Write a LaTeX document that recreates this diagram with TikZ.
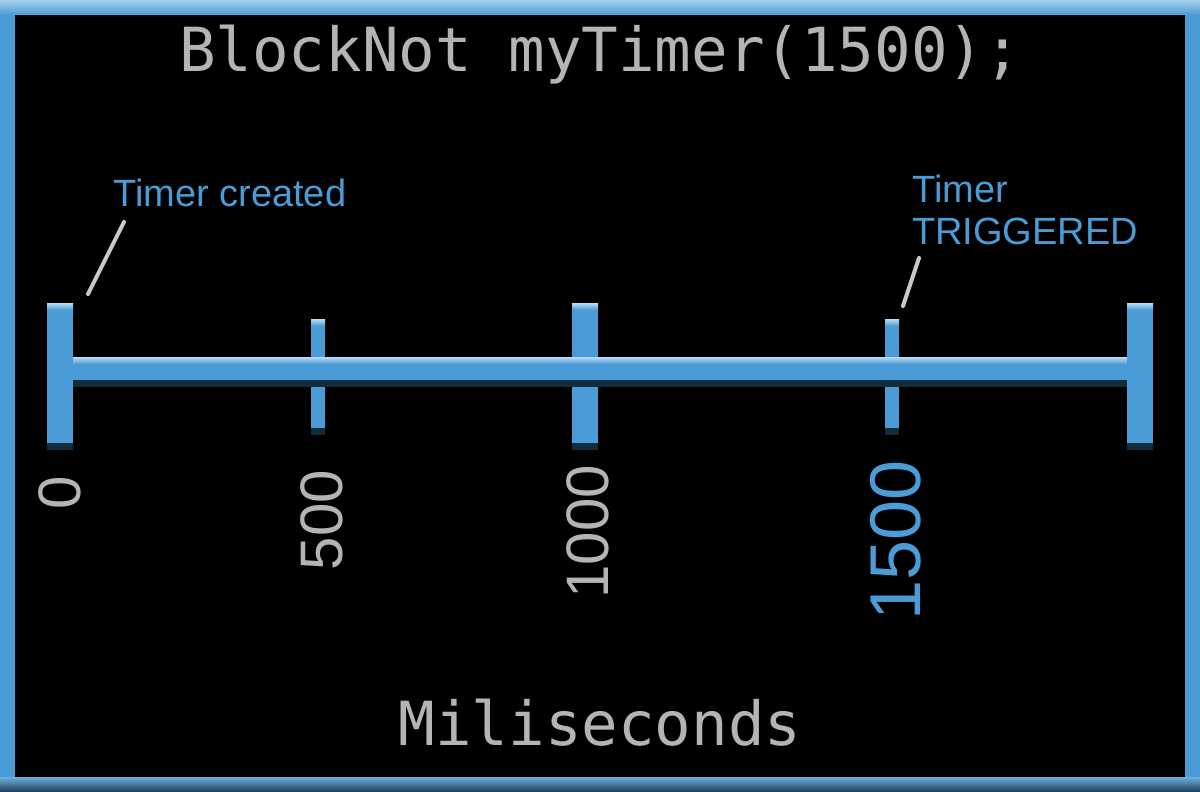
\documentclass[tikz,border=0pt]{standalone}
\usepackage{fontspec}
\setmainfont{Liberation Sans}
\newfontfamily\codefont{DejaVu Sans Mono}
\definecolor{frameblue}{HTML}{4A9BD6}
\definecolor{framelight}{HTML}{A8CFF0}
\definecolor{axisblue}{HTML}{4A9BD6}
\definecolor{axishl}{HTML}{B8DDF8}
\definecolor{axisdark}{HTML}{122C3C}
\definecolor{labelgrey}{HTML}{B4B4B4}
\definecolor{leadergrey}{HTML}{C8C8C8}
\tikzset{
  codetext/.style={text=labelgrey, font=\codefont\fontsize{60.8}{66}\selectfont, inner sep=0pt},
  bluelbl/.style={text=frameblue, font=\fontsize{38}{42}\selectfont, inner sep=0pt},
  numlbl/.style={text=labelgrey, font=\fontsize{60}{66}\selectfont, inner sep=0pt, rotate=90, anchor=east},
  leader/.style={draw=leadergrey, line width=4pt, line cap=round},
}
\newcommand{\mytick}[4]{% x, halfwidth, ytop, ybottom
  \fill[axisdark] (#1-#2,#4-8) rectangle (#1+#2,#4);
  \fill[axisblue] (#1-#2,#3) rectangle (#1+#2,#4-7);
  \fill[top color=axishl, bottom color=axisblue] (#1-#2,#3) rectangle (#1+#2,#3+7);
}
\begin{document}
\begin{tikzpicture}[x=1pt,y=-1pt]
\useasboundingbox (0,0) rectangle (1200,792);
% frame
\fill[frameblue] (0,0) rectangle (1200,792);
\fill[top color=framelight, bottom color=frameblue] (0,0) rectangle (1200,15);
\fill[top color=frameblue!80!white, bottom color=frameblue!40!black] (0,777) rectangle (1200,792);
\fill[black] (15,15) rectangle (1185,777);
% axis ticks
\mytick{60}{13}{303}{450}
\mytick{318}{7}{319}{435}
\mytick{585}{13}{303}{450}
\mytick{892}{7}{319}{435}
\mytick{1140}{13}{303}{450}
% axis bar
\fill[axisdark] (73,378) rectangle (1127,387);
\fill[axisblue] (73,358) rectangle (1127,380);
\fill[top color=axishl, bottom color=axisblue] (73,357) rectangle (1127,364);
% texts
\node[codetext, anchor=base] (title) at (600,71) {BlockNot myTimer(1500);};
\node[codetext, anchor=base] (unit) at (600,745) {Miliseconds};
\node[bluelbl, anchor=base west] (created) at (113,206) {Timer created};
\node[bluelbl, anchor=base west, align=left] (triggered) at (912,244) {Timer\\TRIGGERED};
\node[numlbl] (n0) at (60,476) {0};
\node[numlbl] (n500) at (322,470) {500};
\node[numlbl] (n1000) at (588,465) {1000};
\node[numlbl, text=frameblue, font=\fontsize{72}{80}\selectfont] (n1500) at (896,460) {1500};
% leader lines
\coordinate (l1a) at (88,294);
\coordinate (l1b) at (124,222);
\coordinate (l2a) at (903,306);
\coordinate (l2b) at (919,258);
\draw[leader] (l1a) -- (l1b);
\draw[leader] (l2a) -- (l2b);
\end{tikzpicture}
\end{document}
